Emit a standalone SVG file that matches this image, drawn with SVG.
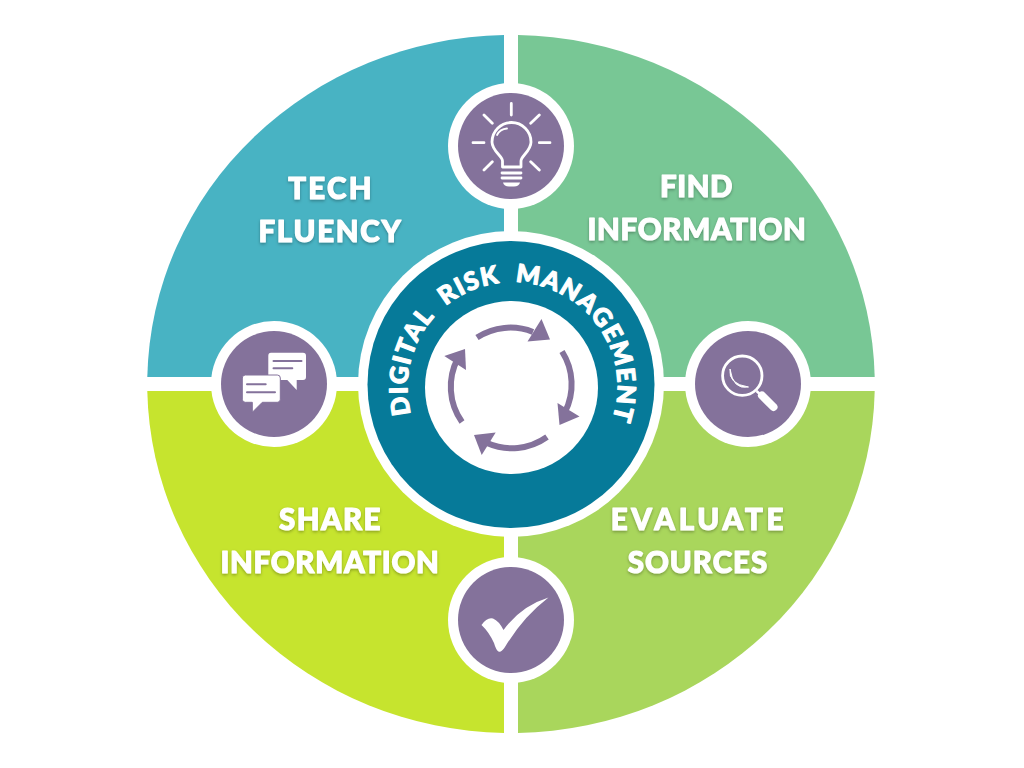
<svg xmlns="http://www.w3.org/2000/svg" width="1024" height="768" viewBox="0 0 1024 768">
<style>
.lbl{font-family:"Lato","Liberation Sans",sans-serif;font-weight:900;font-size:29.500px;fill:#fff;stroke:#fff;stroke-width:1.100;stroke-linejoin:round;text-anchor:middle;filter:url(#sh)}
.ring{font-family:"Lato","Liberation Sans",sans-serif;font-weight:900;font-size:25px;letter-spacing:1.350px;fill:#fff;stroke:#fff;stroke-width:1.100;stroke-linejoin:round}
.halo{fill:#fff}.disc{fill:#84729b}
.ln{fill:none;stroke:#fff;stroke-width:2.800;stroke-linecap:round}
.pl{fill:none;stroke:#84729b;stroke-width:2;stroke-linecap:round}
.arc{fill:none;stroke:#84729b;stroke-width:6}
.hd{fill:#84729b}
</style>
<defs>
<filter id="sh" x="-20%" y="-40%" width="140%" height="200%"><feDropShadow dx="0" dy="1.500" stdDeviation="1.800" flood-color="#000" flood-opacity=".3"/></filter>
<path id="ringPath" d="M411 414A105 105 0 1 1 590 458"/>
</defs>
<rect width="1024" height="768" fill="#fff"/>
<g id="tech-fluency">
<path d="M504 377H147.300A364 349 0 0 1 504 35Z" fill="#48b3c3"/>
<text class="lbl" x="331" y="199" letter-spacing="2.200">TECH</text><text class="lbl" x="330.500" y="241.500" letter-spacing="1.700">FLUENCY</text>
</g>
<g id="find-information">
<path d="M518 377H874.700A364 349 0 0 0 518 35Z" fill="#78c795"/>
<text class="lbl" x="696.500" y="197" letter-spacing=".5">FIND</text><text class="lbl" x="697" y="239.500" letter-spacing=".7">INFORMATION</text>
</g>
<g id="share-information">
<path d="M504 391H147.300A364 349 0 0 0 504 733Z" fill="#c6e42e"/>
<text class="lbl" x="330.500" y="530" letter-spacing="1.400">SHARE</text><text class="lbl" x="330" y="573" letter-spacing=".7">INFORMATION</text>
</g>
<g id="evaluate-sources">
<path d="M518 391H874.700A364 349 0 0 1 518 733Z" fill="#a9d65c"/>
<text class="lbl" x="699" y="530" letter-spacing="3.800">EVALUATE</text><text class="lbl" x="698" y="573" letter-spacing="1">SOURCES</text>
</g>
<g id="center">
<circle class="halo" cx="511" cy="384" r="153"/>
<circle cx="511" cy="384.500" r="143.500" fill="#067a99"/>
<circle class="halo" cx="511.500" cy="387.500" r="86.500"/>
<text class="ring" xml:space="preserve"><textPath href="#ringPath">DIGITAL  RISK  MANAGEMENT</textPath></text>
</g>
<g id="connectors">
<path class="arc" d="M477 337.500A61 61 0 0 1 533 332"/><path class="hd" d="M541.500 319L550 339.500L527.500 341.500Z"/>
<path class="arc" d="M562 351.500A61 61 0 0 1 565 412"/><path class="hd" d="M557.500 403L579.500 416.500L559.500 425Z"/>
<path class="arc" d="M547 437A61 61 0 0 1 487 443"/><path class="hd" d="M495.700 432.500L474 435L481.700 455Z"/>
<path class="arc" d="M462 422A61 61 0 0 1 458 358"/><path class="hd" d="M466 370L465 349L444.300 356Z"/>
</g>
<g id="icon-idea">
<circle class="halo" cx="511" cy="146" r="63"/><circle class="disc" cx="511" cy="146" r="53"/>
<path class="ln" d="M511.300 103.500V115M530.700 123.300L539.300 115M484 115L492.300 123.300M473 142.700H484M539.300 142.700H550M484 170L492.300 161.700M530.700 161.700L539.300 170"/>
<path d="M502.500 167V161C502.500 156 492 151 492 142A19.500 19.500 0 0 1 531 142C531 151 521 156 521 161V167Z" fill="none" stroke="#fff" stroke-width="2.800" stroke-linejoin="round"/>
<path d="M497 135Q500 129 507 128.500" fill="none" stroke="#fff" stroke-width="1.800" stroke-linecap="round"/>
<path class="ln" d="M502 173H521M502 178H521"/>
<path d="M503 182.500H520Q519 186.500 514 186.500H509Q504 186.500 503 182.500Z" fill="#fff"/>
</g>
<g id="icon-chat">
<circle class="halo" cx="274" cy="384" r="63"/><circle class="disc" cx="274" cy="384" r="53"/>
<path d="M271 352.700H303Q306 352.700 306 355.700V377Q306 380 303 380H296.700V390L287.300 380H271Q268.300 380 268.300 377V355.700Q268.300 352.700 271 352.700Z" fill="#fff"/>
<path class="pl" d="M273.500 361H301.500M273.500 368.300H292.300"/>
<path d="M245.300 375H277.300Q280.300 375 280.300 378V399.300Q280.300 402.300 277.300 402.300H262.300L252.300 412.300V402.300H245.300Q242.300 402.300 242.300 399.300V378Q242.300 375 245.300 375Z" fill="#fff" stroke="#84729b" stroke-width="1"/>
<path class="pl" d="M247 384.300H265.700M247 392.300H275"/>
</g>
<g id="icon-search">
<circle class="halo" cx="748" cy="384" r="63"/><circle class="disc" cx="748" cy="384" r="53"/>
<circle cx="742.300" cy="375.700" r="19.700" fill="none" stroke="#fff" stroke-width="2.800"/>
<path d="M730 369Q728 384 748.500 387Q733 390 730 369Z" fill="#fff" stroke="#fff" stroke-width="1"/>
<path d="M756.500 391L762 396" stroke="#fff" stroke-width="2.500"/>
<path d="M762 395.500L773.500 407" stroke="#fff" stroke-width="8" stroke-linecap="round"/>
</g>
<g id="icon-check">
<circle class="halo" cx="511" cy="620" r="63"/><circle class="disc" cx="511" cy="620" r="53"/>
<path d="M481.500 625Q487 617 493 618.500Q499 621 503.500 630Q521 606 548.500 597.500Q523 617 505 647Q501 653 498.500 651.500Q496 650 494 643Q489 632 481.500 625Z" fill="#fff"/>
</g>
</svg>
